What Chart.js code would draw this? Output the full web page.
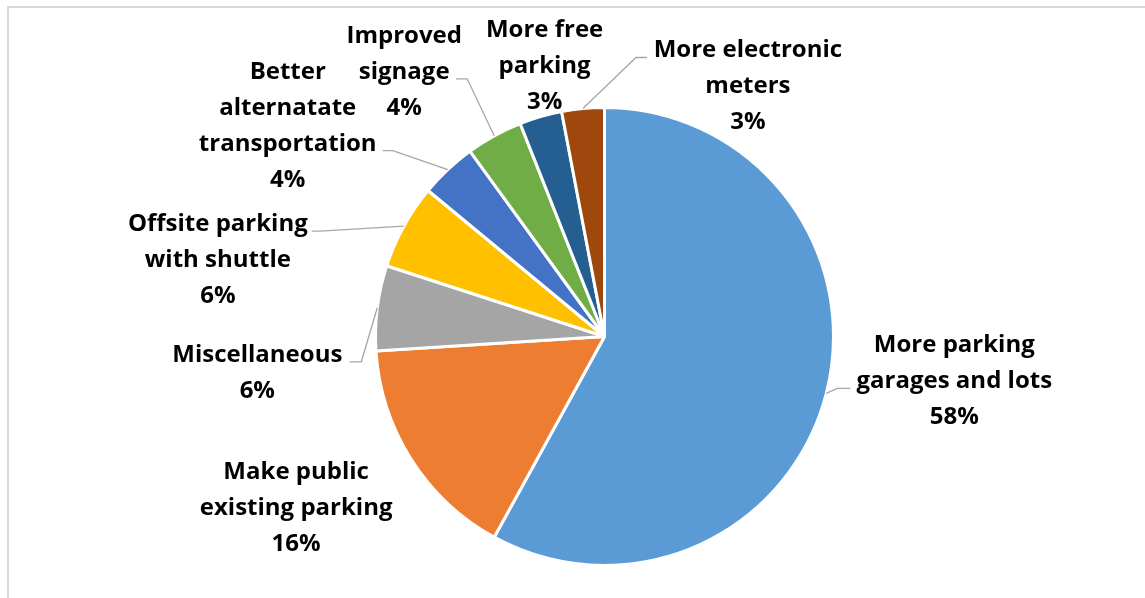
<!DOCTYPE html>
<html>
<head>
<meta charset="utf-8">
<script src="https://cdn.jsdelivr.net/npm/chart.js@4.4.0/dist/chart.umd.min.js"></script>
<style>
    body { margin: 0; background: #fff; overflow: hidden; }
    #wrap { position: relative; width: 1145px; height: 598px; }
    #frame { position: absolute; left: 7px; top: 6px; width: 1160px; height: 620px; border: 2px solid #d9d9d9; box-sizing: border-box; }
    #pie-chart { position: absolute; left: 0; top: 0; }
</style>
</head>
<body>
<div id="wrap">
    <div id="frame"></div>
    <canvas id="pie-chart" width="1145" height="598"></canvas>
</div>
<script>
let categorias = [
    ['More parking', 'garages and lots'],
    ['Make public', 'existing parking'],
    ['Miscellaneous'],
    ['Offsite parking', 'with shuttle'],
    ['Better', 'alternatate', 'transportation'],
    ['Improved', 'signage'],
    ['More free', 'parking'],
    ['More electronic', 'meters']
];
let porcentajes = [58, 16, 6, 6, 4, 4, 3, 3];
let colores = ['#5b9bd5', '#ed7d31', '#a5a5a5', '#ffc000', '#4472c4', '#70ad47', '#255e91', '#9e480e'];

// where each label sits, relative to the slice edge at its middle angle
// text: offset of the text block centre, lead: elbow of the leader line, stub: end of the leader
let posEtiquetas = [
    { text: [128, -12], lead: [11, -5], stub: [24, -5] },
    { text: [-115, 49] },
    { text: [-120, 65], lead: [-16, 54], stub: [-28, 54] },
    { text: [-186, 34], lead: [-84, 5], stub: [-92, 5] },
    { text: [-160, -43], lead: [-55, -19], stub: [-65, -19] },
    { text: [-90, -64], lead: [-27, -57], stub: [-38, -57] },
    { text: [4, -50] },
    { text: [165, -22], lead: [53, -51], stub: [64, -51] }
];

const etiquetasPlugin = {
    id: 'etiquetas',
    afterDatasetsDraw(chart) {
        const ctx = chart.ctx;
        const arcs = chart.getDatasetMeta(0).data;
        const lineH = 36;
        ctx.save();
        ctx.font = 'bold 24px "Open Sans"';
        ctx.textAlign = 'center';
        ctx.textBaseline = 'middle';
        arcs.forEach(function (arc, i) {
            const p = arc.getProps(['x', 'y', 'startAngle', 'endAngle', 'outerRadius'], true);
            const mid = (p.startAngle + p.endAngle) / 2;
            const ex = p.x + Math.cos(mid) * p.outerRadius;
            const ey = p.y + Math.sin(mid) * p.outerRadius;
            const cfg = posEtiquetas[i];
            if (cfg.lead) {
                ctx.strokeStyle = '#a6a6a6';
                ctx.lineWidth = 1.3;
                ctx.beginPath();
                ctx.moveTo(ex, ey);
                ctx.lineTo(ex + cfg.lead[0], ey + cfg.lead[1]);
                ctx.lineTo(ex + cfg.stub[0], ey + cfg.stub[1]);
                ctx.stroke();
            }
            const lines = categorias[i].concat([porcentajes[i] + '%']);
            const cx = ex + cfg.text[0];
            const cy = ey + cfg.text[1];
            const top = cy - (lines.length - 1) * lineH / 2;
            ctx.fillStyle = '#000';
            lines.forEach(function (t, k) {
                ctx.fillText(t, cx, top + k * lineH);
            });
        });
        ctx.restore();
    }
};

new Chart(document.getElementById('pie-chart'), {
    type: 'pie',
    data: {
        labels: categorias,
        datasets: [{
            data: porcentajes,
            backgroundColor: colores,
            borderColor: '#ffffff',
            borderWidth: 3
        }]
    },
    options: {
        responsive: false,
        animation: false,
        layout: { padding: { left: 374, right: 310, top: 106, bottom: 31 } },
        plugins: {
            legend: { display: false },
            tooltip: { enabled: false }
        }
    },
    plugins: [etiquetasPlugin]
});
</script>
</body>
</html>
